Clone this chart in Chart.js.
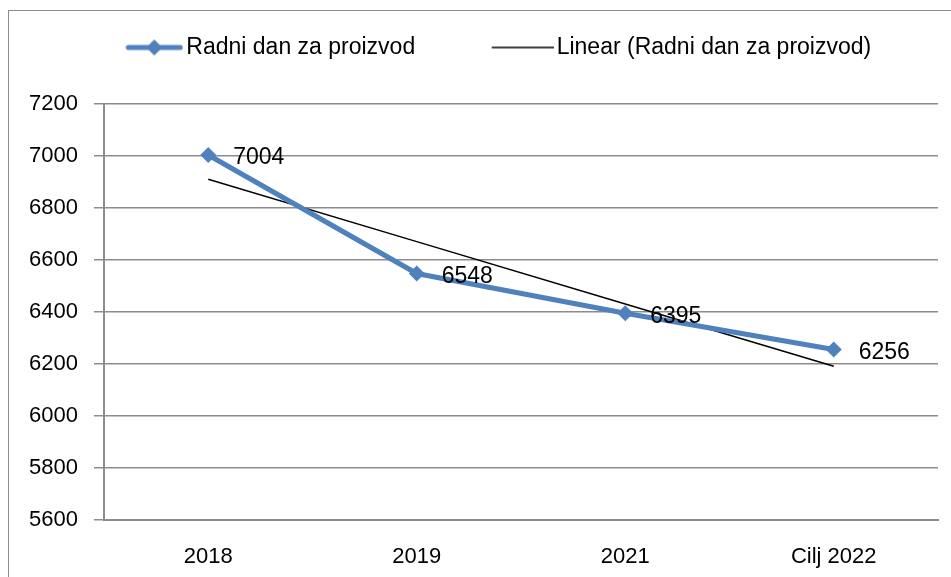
<!DOCTYPE html>
<html>
<head>
<meta charset="utf-8">
<script src="https://cdn.jsdelivr.net/npm/chart.js@4.4.1/dist/chart.umd.min.js"></script>
<style>
  html, body { margin: 0; padding: 0; background: #fff; overflow: hidden; }
  #okvir { position: absolute; left: 8px; top: 10px; width: 1000px; height: 700px; border: 1.5px solid #8c8c8c; }
  #wrap { position: absolute; left: -4px; top: 0; width: 950px; height: 577px; }
</style>
</head>
<body>
<div id="okvir"></div>
<div id="wrap"><canvas id="grafik" width="950" height="577"></canvas></div>
<script>
// Podaci
const kategorije = ['2018', '2019', '2021', 'Cilj 2022'];
const radniDan = [7004, 6548, 6395, 6256];
const yTicks = [5600, 5800, 6000, 6200, 6400, 6600, 6800, 7000, 7200];

const plava = '#4F81BD';
const font = "'Liberation Sans', Arial, sans-serif";

// Linearni trend (najmanji kvadrati)
function linTrend(vals) {
    const n = vals.length;
    let sx = 0, sy = 0, sxy = 0, sxx = 0;
    vals.forEach((v, i) => { const x = i + 1; sx += x; sy += v; sxy += x * v; sxx += x * x; });
    const k = (n * sxy - sx * sy) / (n * sxx - sx * sx);
    const b = (sy - k * sx) / n;
    return vals.map((v, i) => b + k * (i + 1));
}
const trend = linTrend(radniDan);

// Ikone za legendu (linija u desnom dijelu slike)
function ikona(boja, debljina, duzina, romb) {
    const c = document.createElement('canvas');
    c.width = 121; c.height = 18;
    const ctx = c.getContext('2d');
    const x0 = 121 - duzina;
    ctx.strokeStyle = boja;
    ctx.lineWidth = debljina;
    ctx.lineCap = romb ? 'round' : 'butt';
    ctx.beginPath();
    ctx.moveTo(romb ? x0 + 3 : x0, 9);
    ctx.lineTo(romb ? 118 : 121, 9);
    ctx.stroke();
    if (romb) {
        const cx = x0 + duzina / 2;
        ctx.fillStyle = boja;
        ctx.beginPath();
        ctx.moveTo(cx, 1); ctx.lineTo(cx + 8, 9); ctx.lineTo(cx, 17); ctx.lineTo(cx - 8, 9);
        ctx.closePath();
        ctx.fill();
    }
    return c;
}
const ikonaSerija = ikona(plava, 5, 58, true);
const ikonaTrend = ikona('#000', 1.5, 62, false);

// Oznake vrijednosti
const oznake = {
    id: 'oznake',
    afterDatasetsDraw(chart) {
        const ctx = chart.ctx;
        const meta = chart.getDatasetMeta(0);
        ctx.save();
        ctx.font = '23px ' + font;
        ctx.fillStyle = '#000';
        ctx.textAlign = 'left';
        ctx.textBaseline = 'middle';
        meta.data.forEach((p, i) => {
            ctx.fillText(String(radniDan[i]), p.x + 25, p.y + 3);
        });
        ctx.restore();
    }
};

window.onload = function() {
    new Chart(document.getElementById('grafik'), {
        type: 'line',
        data: {
            labels: kategorije,
            datasets: [{
                label: 'Radni dan za proizvod',
                data: radniDan,
                borderColor: plava,
                backgroundColor: plava,
                borderWidth: 5,
                pointStyle: 'rectRot',
                pointRadius: 8,
                pointBorderWidth: 0,
                pointBackgroundColor: plava,
                tension: 0
            }, {
                label: 'Linear (Radni dan za proizvod)',
                data: trend,
                borderColor: '#000',
                borderWidth: 1.5,
                pointRadius: 0,
                tension: 0
            }]
        },
        options: {
            responsive: false,
            animation: false,
            layout: { padding: { left: 0, right: 0, top: 10, bottom: 0 } },
            plugins: {
                legend: {
                    position: 'top',
                    labels: {
                        usePointStyle: true,
                        pointStyleWidth: 104,
                        color: '#000',
                        font: { family: font, size: 23 },
                        padding: 26,
                        generateLabels() {
                            return [
                                { text: 'Radni dan za proizvod', pointStyle: ikonaSerija, datasetIndex: 0, lineWidth: 0, fillStyle: 'transparent', strokeStyle: 'transparent' },
                                { text: 'Linear (Radni dan za proizvod)', pointStyle: ikonaTrend, datasetIndex: 1, lineWidth: 0, fillStyle: 'transparent', strokeStyle: 'transparent' }
                            ];
                        }
                    }
                },
                // prazan razmak izmedju legende i grafikona
                title: {
                    display: true,
                    text: ' ',
                    position: 'top',
                    weight: 500,
                    padding: 0,
                    font: { size: 10, lineHeight: '35px' }
                },
                tooltip: { enabled: false }
            },
            scales: {
                x: {
                    offset: true,
                    grid: { display: false, drawTicks: false },
                    border: { display: true, color: '#8c8c8c', width: 2 },
                    ticks: { color: '#000', font: { family: font, size: 22 }, padding: 24 },
                    afterFit(s) { s.height = 57; }
                },
                y: {
                    min: yTicks[0],
                    max: yTicks[yTicks.length - 1],
                    afterBuildTicks(s) { s.ticks = yTicks.map(v => ({ value: v })); },
                    grid: { color: '#8c8c8c', lineWidth: 1.5, tickLength: 10 },
                    border: { display: true, color: '#8c8c8c', width: 2 },
                    ticks: { color: '#000', font: { family: font, size: 22 }, padding: 16, callback: v => String(v) },
                    afterFit(s) { s.width = 108; }
                }
            }
        },
        plugins: [oznake]
    });
};
</script>
</body>
</html>
